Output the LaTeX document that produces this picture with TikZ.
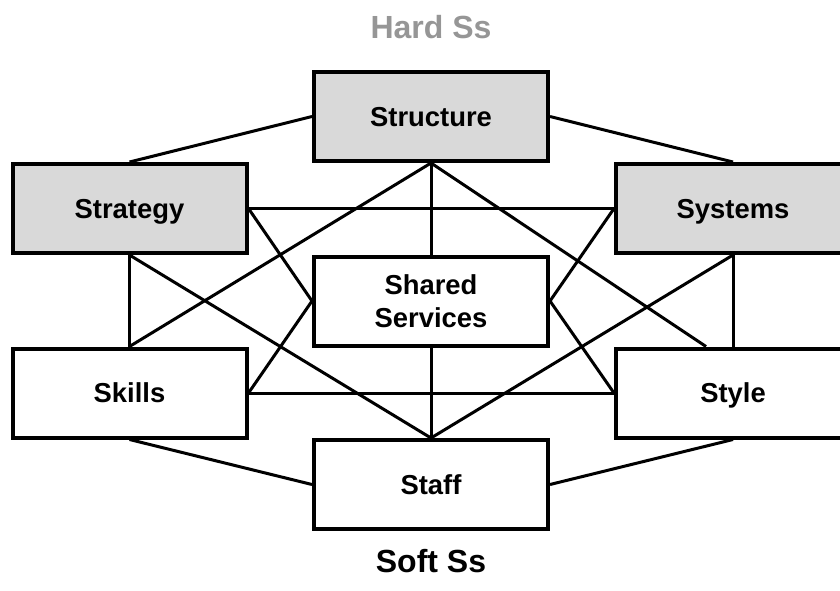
\documentclass[tikz,border=0pt]{standalone}
\usepackage{fontspec}
\setmainfont{Liberation Sans}
\definecolor{hardfill}{RGB}{217,217,217}
\definecolor{hardtext}{RGB}{150,150,150}
\tikzset{
  sbox/.style={draw=black, line width=4pt, fill=white, inner sep=0pt,
    minimum width=234pt, minimum height=89pt,
    font=\bfseries\fontsize{27.4}{33}\selectfont,
    text height=19.6pt, text depth=0pt},
  hardbox/.style={sbox, fill=hardfill},
  twoline/.style={align=center, text height={}, text depth={}},
  link/.style={draw=black, line width=3pt},
  group/.style={font=\bfseries\fontsize{32}{38}\selectfont, inner sep=0pt,
    text height=22.9pt, text depth=0pt}
}
\begin{document}
\begin{tikzpicture}[x=1pt, y=-1pt]
  \useasboundingbox (0,0) rectangle (840,590);
  \clip (0,0) rectangle (840,590);

  % the seven elements
  \node[hardbox] (structure) at (431,116.5) {Structure};
  \node[hardbox] (strategy)  at (129.5,208.5) {Strategy};
  \node[hardbox] (systems)   at (733,208.5) {Systems};
  \node[sbox, twoline] (shared) at (431,301) {Shared\\Services};
  \node[sbox] (skills) at (129.5,393) {Skills};
  \node[sbox] (style)  at (733,393) {Style};
  \node[sbox] (staff)  at (431,484.5) {Staff};

  \coordinate (styletop) at ([xshift=-27pt]style.north);

  % connections between the elements
  \draw[link] (structure.west) -- (strategy.north);
  \draw[link] (structure.east) -- (systems.north);
  \draw[link] (strategy.east) -- (systems.west);
  \draw[link] (strategy.south) -- (skills.north);
  \draw[link] (systems.south) -- (style.north);
  \draw[link] (skills.east) -- (style.west);
  \draw[link] (skills.south) -- (staff.west);
  \draw[link] (style.south) -- (staff.east);
  \draw[link] (structure.south) -- (shared.north);
  \draw[link] (shared.south) -- (staff.north);
  \draw[link] (structure.south) -- (skills.north);
  \draw[link] (structure.south) -- (styletop);
  \draw[link] (strategy.south) -- (staff.north);
  \draw[link] (systems.south) -- (staff.north);
  \draw[link] (strategy.east) -- (shared.west);
  \draw[link] (skills.east) -- (shared.west);
  \draw[link] (systems.west) -- (shared.east);
  \draw[link] (style.west) -- (shared.east);

  % group captions
  \node[group, text=hardtext] (hard) at (431,27) {Hard Ss};
  \node[group] (soft) at (431,561) {Soft Ss};
\end{tikzpicture}
\end{document}
